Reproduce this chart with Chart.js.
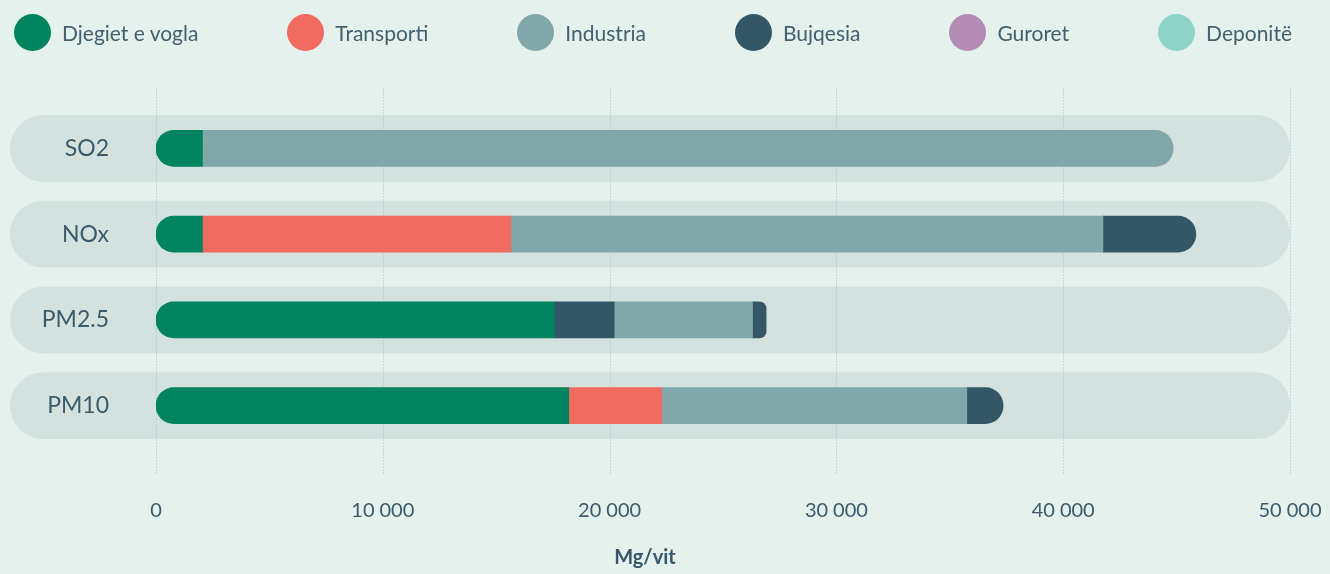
<!DOCTYPE html>
<html lang="sq">
  <head>
    <meta charset="UTF-8" />
    <title>Emetimet sipas burimit</title>
    <script src="https://cdn.jsdelivr.net/npm/chart.js"></script>
    <style>
      body { margin: 0; background: #e5f1ed; font-family: Lato, sans-serif; }
      .wrap { position: relative; width: 1330px; height: 574px; }
      #legend {
        position: absolute; top: 0; left: 0; right: 0; height: 65px;
        display: flex; align-items: center; justify-content: space-between;
        padding: 0 38px 0 14px;
      }
      .item { display: flex; align-items: center; font-size: 21px; color: #44606f; }
      .dot { width: 37px; height: 37px; border-radius: 50%; margin-right: 11px; }
    </style>
  </head>
  <body>
    <div class="wrap">
      <div id="legend"></div>
      <canvas id="chart" width="1330" height="574"></canvas>
    </div>

    <script>
      // te dhenat (Mg/vit)
      const categories = ["SO2", "NOx", "PM2.5", "PM10"];
      const djegiet = [2050, 2050, 17550, 18200];
      const transporti = [0, 13600, 0, 4100];
      const bujqesiaPara = [0, 0, 2650, 0]; // segmenti i erret ne PM2.5 para industrise
      const industria = [42800, 26100, 6100, 13450];
      const bujqesia = [0, 4100, 600, 1600];
      const guroret = [0, 0, 0, 0];
      const deponite = [0, 0, 0, 0];
      const xTicks = [0, 10000, 20000, 30000, 40000, 50000];

      const legendItems = [
        ["Djegiet e vogla", "#00845f"],
        ["Transporti", "#f26b60"],
        ["Industria", "#82a7ab"],
        ["Bujqesia", "#355667"],
        ["Guroret", "#b28cb5"],
        ["Deponitë", "#8dd3c8"],
      ];

      // legjenda html
      const legendEl = document.getElementById("legend");
      legendItems.forEach(([name, color]) => {
        const el = document.createElement("div");
        el.className = "item";
        el.innerHTML = '<span class="dot" style="background:' + color + '"></span>' + name;
        legendEl.appendChild(el);
      });

      // rrumbullakim vetem ne skajet e stivës
      function cornerRadius(ctx) {
        if (ctx.type !== "data") return 0;
        const i = ctx.dataIndex;
        const filled = ctx.chart.data.datasets
          .map((d, k) => (d.data[i] > 0 ? k : -1))
          .filter((k) => k >= 0);
        const l = ctx.datasetIndex === filled[0] ? 18 : 0;
        const r = ctx.datasetIndex === filled[filled.length - 1] ? 18 : 0;
        return { topLeft: l, bottomLeft: l, topRight: r, bottomRight: r };
      }

      // sfondi i rreshtave + vijat e rrjetit
      const pillsPlugin = {
        id: "pills",
        beforeDraw(chart) {
          const { ctx, chartArea, scales: { x, y } } = chart;
          const band = (y.getPixelForValue(1) - y.getPixelForValue(0)) * 0.78;
          const right = x.getPixelForValue(x.max);
          ctx.save();
          ctx.fillStyle = "#d3e2df";
          categories.forEach((c, i) => {
            const cy = y.getPixelForValue(i);
            ctx.beginPath();
            ctx.roundRect(10, cy - band / 2, right - 10, band, band / 2);
            ctx.fill();
          });
          ctx.strokeStyle = "#a3c0bd";
          ctx.lineWidth = 1;
          ctx.setLineDash([1, 2]);
          x.ticks.forEach((t) => {
            const px = Math.round(x.getPixelForValue(t.value)) + 0.5;
            ctx.beginPath();
            ctx.moveTo(px, chartArea.top - 17);
            ctx.lineTo(px, chartArea.bottom + 25);
            ctx.stroke();
          });
          ctx.restore();
        },
      };

      Chart.defaults.font.family = "Lato";

      // segmentet me vlere 0 nuk vizatohen
      const ds = (label, data, color) => ({
        label,
        data: data.map((v) => (v > 0 ? v : null)),
        backgroundColor: color,
        barThickness: 36,
        borderSkipped: false,
        borderRadius: cornerRadius,
      });

      new Chart(document.getElementById("chart"), {
        type: "bar",
        data: {
          labels: categories,
          datasets: [
            ds("Djegiet e vogla", djegiet, "#00845f"),
            ds("Transporti", transporti, "#f26b60"),
            ds("Bujqesia", bujqesiaPara, "#355667"),
            ds("Industria", industria, "#82a7ab"),
            ds("Bujqesia", bujqesia, "#355667"),
            ds("Guroret", guroret, "#b28cb5"),
            ds("Deponitë", deponite, "#8dd3c8"),
          ],
        },
        options: {
          indexAxis: "y",
          responsive: false,
          animation: false,
          layout: { padding: { top: 105.5, right: 40, left: 0, bottom: 0 } },
          plugins: {
            legend: { display: false },
            tooltip: { enabled: false },
            title: {
              display: true,
              position: "bottom",
              text: "Mg/vit",
              color: "#35566a",
              font: { size: 20, weight: "bold" },
              padding: { top: 0, bottom: 4 },
            },
          },
          scales: {
            x: {
              stacked: true,
              min: xTicks[0],
              max: xTicks[xTicks.length - 1],
              grid: { display: false },
              border: { display: false },
              ticks: {
                stepSize: xTicks[1] - xTicks[0],
                padding: 42,
                color: "#3d5a6b",
                font: { size: 20 },
                callback: (v) => String(v).replace(/\B(?=(\d{3})+(?!\d))/g, "\u202f"),
              },
              afterFit: (s) => {
                s.height = 97.5;
                s.paddingLeft = 0;
                s.paddingRight = 0;
              },
            },
            y: {
              stacked: true,
              grid: { display: false },
              border: { display: false },
              ticks: { padding: 39, color: "#3d5a6b", font: { size: 23 } },
              afterFit: (s) => { s.width = 156; },
            },
          },
        },
        plugins: [pillsPlugin],
      });
    </script>
  </body>
</html>
